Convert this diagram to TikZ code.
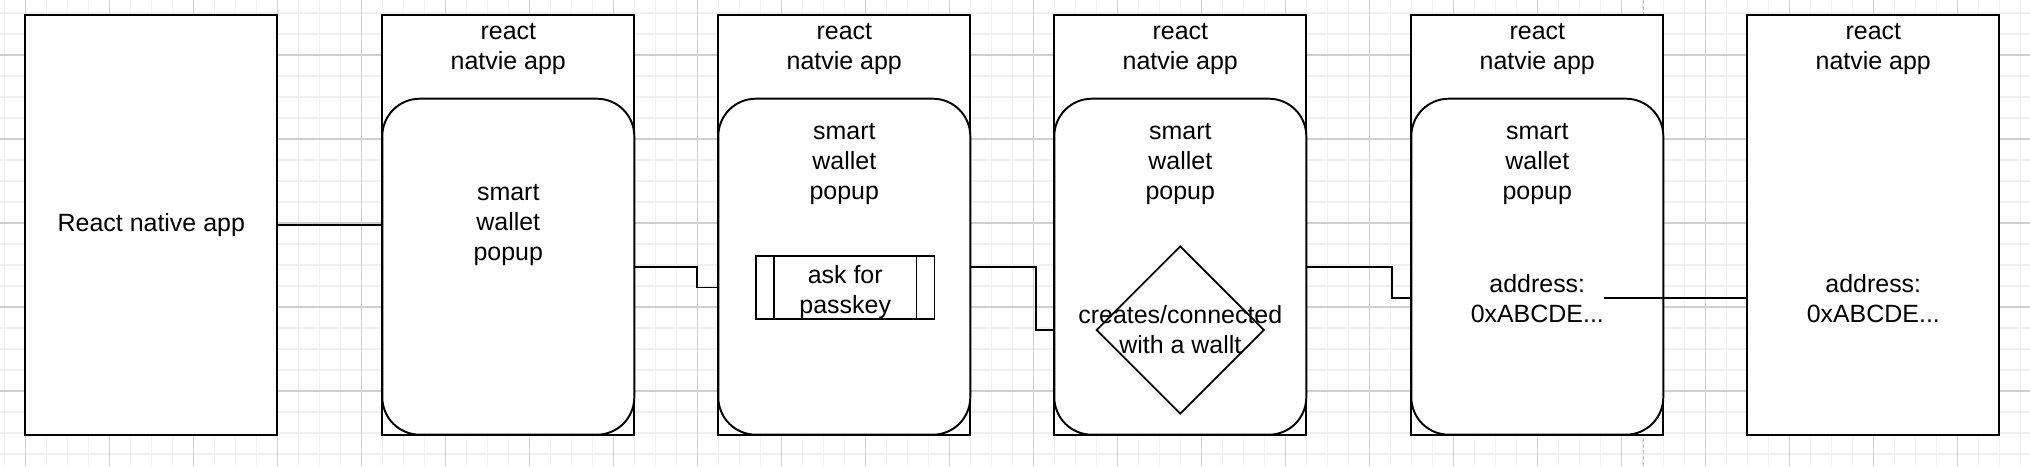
\documentclass[tikz,border=0pt]{standalone}
\usepackage{fontspec}
\setmainfont{Liberation Sans}
\usetikzlibrary{shapes.geometric}

\definecolor{gridmajor}{HTML}{D0D0D0}
\definecolor{gridminor}{HTML}{F0F0F0}
\definecolor{pagebreak}{HTML}{C0C0C0}

\begin{document}
\begin{tikzpicture}[
	every node/.style={font=\fontsize{14.2}{17.1}\selectfont, align=center, inner sep=0pt},
	appbox/.style={draw=black, fill=white, line width=1.1pt, minimum width=5.04cm, minimum height=8.4cm},
	popupbox/.style={draw=black, fill=white, line width=1.1pt, rounded corners=0.75cm, minimum width=5.04cm, minimum height=6.72cm},
	processbox/.style={draw=black, line width=1pt, minimum width=3.57cm, minimum height=1.26cm},
	decision/.style={diamond, draw=black, line width=1pt, minimum width=3.36cm, minimum height=3.36cm},
	link/.style={draw=black, line width=1.1pt}
	]
	\useasboundingbox (0,0) rectangle (40.6,9.32);
	\fill[white] (0,0) rectangle (40.6,9.32);
	% background grid
	\draw[gridminor, line width=0.6pt, step=0.42, shift={(0.506,1.5)}] (-0.506,-1.5) grid (40.094,7.82);
	\draw[gridmajor, line width=0.6pt, step=1.68, shift={(0.506,1.5)}] (-0.506,-1.5) grid (40.094,7.82);
	\draw[pagebreak, line width=0.6pt, dash pattern=on 0.08cm off 0.04cm] (32.866,0) -- (32.866,9.32);

	% apps
	\node[appbox] (app1) at (3.026,4.826) {React native app};
	\node[appbox] (app2) at (10.166,4.826) {};
	\node[appbox] (app3) at (16.886,4.826) {};
	\node[appbox] (app4) at (23.606,4.826) {};
	\node[appbox] (app5) at (30.746,4.826) {};
	\node[appbox] (app6) at (37.466,4.826) {};
	\foreach \i in {2,...,6}
		\node (title\i) at ([yshift=-0.7cm]app\i.north) {react\\natvie app};

	% popups
	\node[popupbox] (pop2) at (10.166,3.986) {};
	\node[popupbox] (pop3) at (16.886,3.986) {};
	\node[popupbox] (pop4) at (23.606,3.986) {};
	\node[popupbox] (pop5) at (30.746,3.986) {};
	\node (wallet2) at (10.166,4.826) {smart\\wallet\\popup};
	\foreach \i in {3,4,5}
		\node (wallet\i) at ([yshift=5.44cm]app\i.south) {smart\\wallet\\popup};

	\node[processbox, label={[yshift=-0.09cm]center:ask for\\passkey}] (ask) at (16.905,3.57) {};
	\draw[line width=1pt] ([xshift=0.38cm]ask.north west) -- ([xshift=0.38cm]ask.south west);
	\draw[line width=1pt] ([xshift=-0.38cm]ask.north east) -- ([xshift=-0.38cm]ask.south east);

	\node[decision, label={center:creates/connected\\with a wallt}] (dia) at (23.606,2.72) {};

	\node (addr5) at (30.746,3.354) {address:\\0xABCDE...};
	\node (addr6) at (37.466,3.354) {address:\\0xABCDE...};

	% connectors
	\draw[link] (app1.east) -- (app2.west);
	\draw[link] (pop2.east) -- ++(1.23,0) |- (pop3.west |- ask);
	\draw[link] (pop3.east) -- ++(1.29,0) |- (pop4.west |- dia);
	\draw[link] (pop4.east) -- ++(1.70,0) |- (pop5.west |- addr5);
	\draw[link] (addr5.east) -- (addr5.east -| app6.west);
\end{tikzpicture}
\end{document}
